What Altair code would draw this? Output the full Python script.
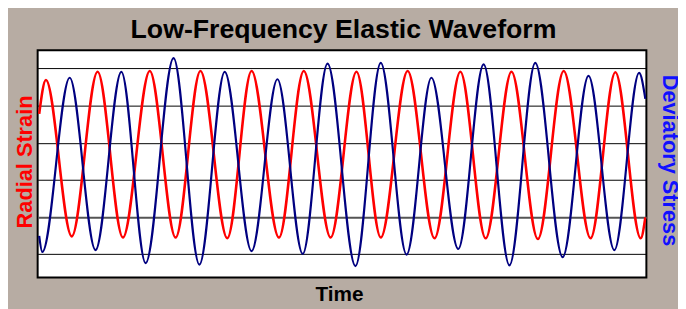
import altair as alt
import pandas as pd

# Time in seconds, values in chart grid units
RED_T = [0.03, 0.16, 0.66, 1.16, 1.65, 2.17, 2.67, 3.15, 3.67, 4.14, 4.67, 5.15, 5.67,
         6.17, 6.64, 7.16, 7.68, 8.18, 8.67, 9.17, 9.68, 10.18, 10.70, 11.18, 11.67, 11.76]
RED_V = [2.78, 3.69, -0.52, 3.91, -0.55, 3.93, -0.55, 3.93, -0.57, 3.93, -0.55, 3.93, -0.55,
         3.91, -0.55, 3.93, -0.57, 3.91, -0.57, 3.91, -0.59, 3.93, -0.57, 3.90, -0.57, -0.01]

BLUE_T = [0.03, 0.09, 0.62, 1.12, 1.62, 2.09, 2.63, 3.13, 3.62, 4.14, 4.64, 5.13, 5.61,
          6.15, 6.64, 7.14, 7.62, 8.14, 8.63, 9.13, 9.63, 10.16, 10.66, 11.16, 11.64, 11.76]
BLUE_V = [-0.51, -0.94, 3.75, -0.89, 3.91, -1.24, 4.28, -1.28, 3.91, -0.92, 3.71, -0.99, 4.13,
          -1.32, 4.15, -1.01, 3.75, -0.86, 4.11, -1.30, 4.15, -1.08, 3.80, -0.89, 3.88, 3.18]

GRID_VALUES = [-1, 0, 1, 2, 3, 4]
X_DOMAIN = [0, 11.78]
Y_DOMAIN = [-1.63, 4.49]

FONT = "Liberation Sans"

red_df = pd.DataFrame({"Time": RED_T, "Radial Strain": RED_V})
blue_df = pd.DataFrame({"Time": BLUE_T, "Deviatory Stress": BLUE_V})

x_enc = alt.X(
    "Time:Q",
    scale=alt.Scale(domain=X_DOMAIN, nice=False, zero=False),
    axis=alt.Axis(
        title="Time", labels=False, ticks=False, domain=False, grid=False,
        titleFont=FONT, titleFontSize=21, titleFontWeight="bold", titleColor="black",
        titleX=305, titleY=23, titleBaseline="alphabetic", titleAlign="center",
    ),
)

red = alt.Chart(red_df).mark_line(
    color="#FF0000", strokeWidth=2.6, interpolate="monotone", clip=True
).encode(
    x=x_enc,
    y=alt.Y(
        "Radial Strain:Q",
        scale=alt.Scale(domain=Y_DOMAIN, nice=False, zero=False),
        axis=alt.Axis(
            orient="left", values=GRID_VALUES, labels=False, ticks=False, domain=False,
            grid=True,
            gridColor={"condition": {"test": "datum.value === 0", "value": "#555555"}, "value": "black"},
            gridWidth={"condition": {"test": "datum.value === 0", "value": 2}, "value": 1},
            title="Radial Strain", titleColor="#FF0000", titleFont=FONT, titleFontSize=22,
            titleFontWeight="bold", titleAngle=270, titleX=-6, titleY=112.5,
            titleBaseline="alphabetic", titleAlign="center",
        ),
    ),
)

blue = alt.Chart(blue_df).mark_line(
    color="#000080", strokeWidth=2.2, interpolate="monotone", clip=True
).encode(
    x=x_enc,
    y=alt.Y(
        "Deviatory Stress:Q",
        scale=alt.Scale(domain=Y_DOMAIN, nice=False, zero=False),
        axis=alt.Axis(
            orient="right", labels=False, ticks=False, domain=False, grid=False,
            title="Deviatory Stress", titleColor="#1010FF", titleFont=FONT, titleFontSize=22,
            titleFontWeight="bold", titleAngle=90, titleX=16, titleY=111,
            titleBaseline="alphabetic", titleAlign="center",
        ),
    ),
)

chart = alt.layer(red, blue).resolve_scale(y="independent").properties(
    width=616,
    height=230,
    title=alt.TitleParams(
        "Low-Frequency Elastic Waveform", font=FONT, fontSize=27, fontWeight="bold",
        color="black", anchor="middle", baseline="alphabetic", offset=11.5, dx=1.5, dy=26,
    ),
    padding={"left": 30, "top": 41, "right": 32, "bottom": 30},
    autosize=alt.AutoSizeParams(type="none"),
).configure(
    background="#B7ACA3", font=FONT
).configure_view(
    fill="white", stroke="black", strokeWidth=2
)

chart.save("out.html", embed_options={"renderer": "svg", "actions": False})
